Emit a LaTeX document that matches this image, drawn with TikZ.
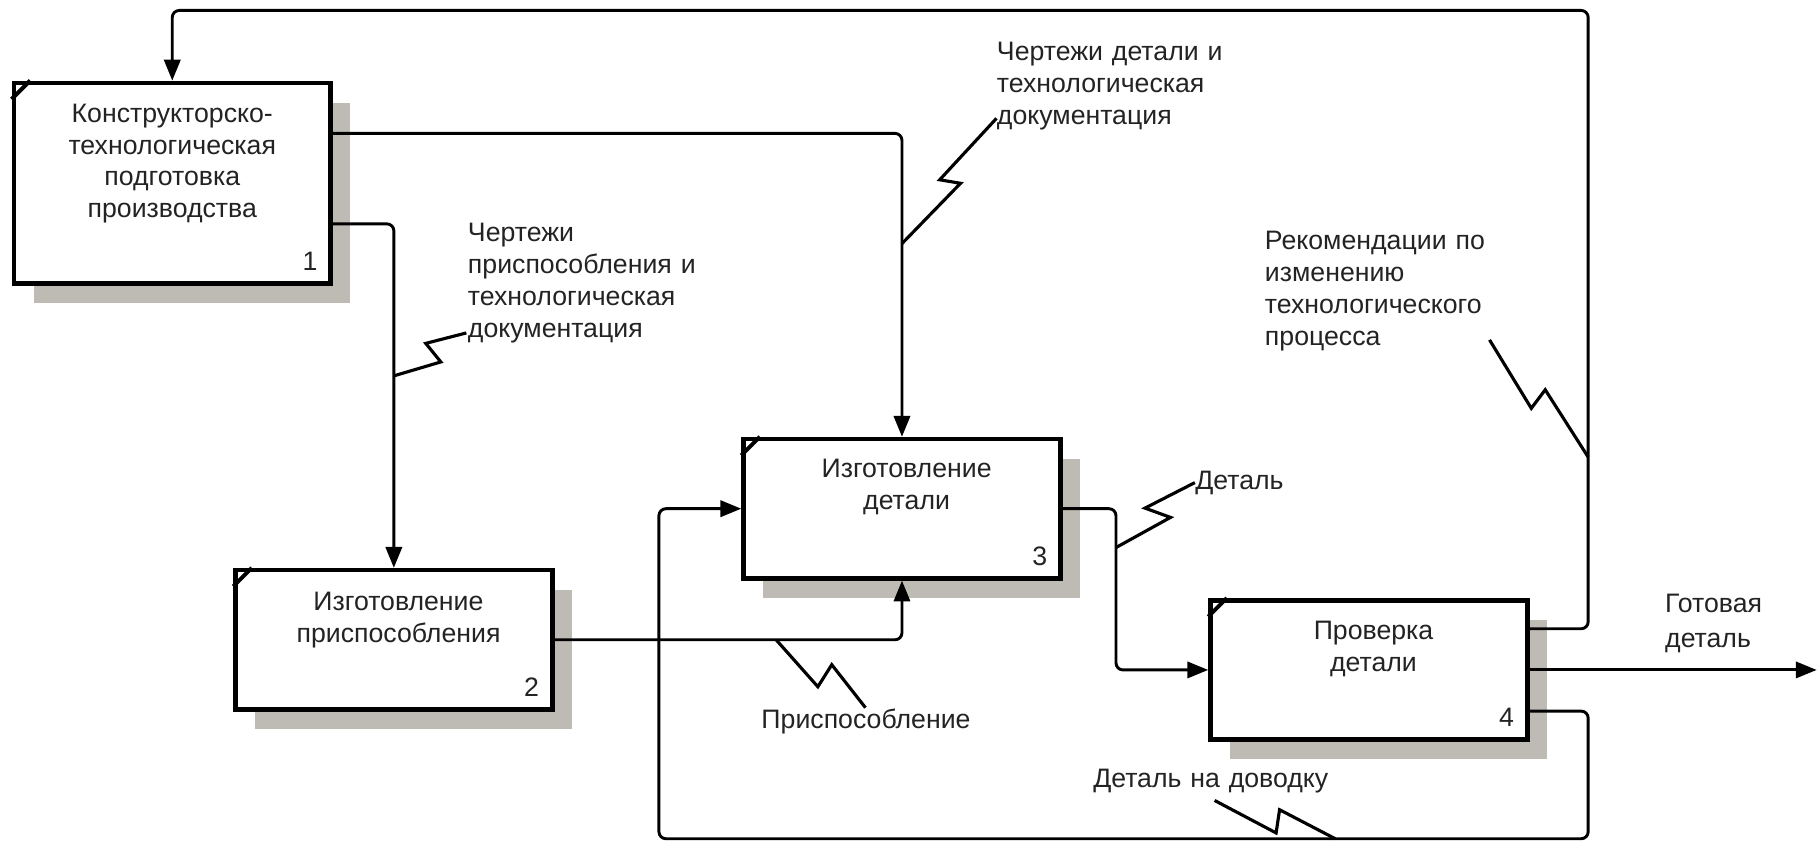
\documentclass[tikz,border=0pt]{standalone}
\usepackage{fontspec}
\setmainfont{Liberation Sans}
\usetikzlibrary{arrows.meta,shadows,calc}
\definecolor{shad}{RGB}{190,187,180}
\definecolor{txt}{RGB}{35,35,35}
\begin{document}
\begin{tikzpicture}[x=0.5pt,y=-0.5pt,
  proc/.style={draw=black, line width=2pt, fill=white, minimum width=136.5pt,
    minimum height=60pt, inner sep=0pt,
    general shadow={shadow xshift=8.5pt, shadow yshift=-8.5pt, fill=shad}},
  ttl/.style={anchor=base, text width=134pt, align=center, inner sep=0pt,
    font=\fontsize{11.5}{13.7}\selectfont, text=txt},
  num/.style={anchor=base east, inner sep=0pt, font=\fontsize{11.5}{13.7}\selectfont, text=txt},
  lbl/.style={anchor=base west, text width=125pt, align=left, inner sep=0pt,
    font=\fontsize{11.5}{13.8}\selectfont, text=txt},
  conn/.style={line width=1.25pt, rounded corners=3pt},
  arr/.style={conn, -{Triangle[length=9pt,width=7pt]}},
  sq/.style={line width=1.35pt, line join=miter},
  cmark/.style={line width=1.7pt}
]
\useasboundingbox (0,0) rectangle (1568,726);

% boxes
\node[proc, minimum height=86.5pt] (b1) at (148.5,158) {};
\node[proc] (b2) at (339.5,551.5) {};
\node[proc] (b3) at (777.5,438.5) {};
\node[proc] (b4) at (1180,577.5) {};

% corner marks
\foreach \b in {b1,b2,b3,b4}
  \draw[cmark] ([yshift=-8pt]\b.north west) -- ([xshift=8pt]\b.north west);

% titles
\node[ttl] (t1) at ([yshift=-18pt]b1.north) {Конструкторско-\\технологическая\\подготовка\\производства};
\node[ttl] (t2) at ([xshift=2pt,yshift=-18.5pt]b2.north) {Изготовление\\приспособления};
\node[ttl] (t3) at ([xshift=2pt,yshift=-17.5pt]b3.north) {Изготовление\\детали};
\node[ttl] (t4) at ([xshift=2pt,yshift=-18pt]b4.north) {Проверка\\детали};

% numbers
\node[num] (n1) at ([xshift=-6.5pt,yshift=6.5pt]b1.south east) {1};
\node[num] (n2) at ([xshift=-6.5pt,yshift=6.5pt]b2.south east) {2};
\node[num] (n3) at ([xshift=-6.5pt,yshift=6.5pt]b3.south east) {3};
\node[num] (n4) at ([xshift=-6.5pt,yshift=6.5pt]b4.south east) {4};

% helper coordinates
\coordinate (aR) at (1369,9);
\coordinate (eC) at (962,438.5);
\coordinate (gR) at (1369,723);
\coordinate (gL) at (568,723);
\coordinate (fEnd) at (1566,577.5);

% connectors
\draw[arr] ([yshift=17.75pt]b4.east) -| (aR) -| (b1.north);
\draw[arr] ([yshift=21.5pt]b1.east) -| (b3.north);
\draw[arr] ([yshift=-17.5pt]b1.east) -| (b2.north);
\draw[arr] (b2.east) -| (b3.south);
\draw[arr] (b3.east) -- (eC) |- (b4.west);
\draw[arr] (b4.east) -- (fEnd);
\draw[arr] ([yshift=-17.75pt]b4.east) -| (gR) -- (gL) |- (b3.west);

% labels
\node[lbl] (l1) at (859,52) {Чертежи детали и\\технологическая\\документация};
\node[lbl] (l2) at (403,208) {Чертежи\\приспособления и\\технологическая\\документация};
\node[lbl] (l3) at (1090,215) {Рекомендации по\\изменению\\технологического\\процесса};
\node[lbl] (l4) at (1030,422) {Деталь};
\node[lbl] (l5) at (656,628) {Приспособление};
\node[lbl, font=\fontsize{11.5}{15}\selectfont] (l6) at (1435,528) {Готовая\\деталь};
\node[lbl] (l7) at (942,679) {Деталь на доводку};

% squiggles
\draw[sq] (777.5,210) -- (828,158) -- (810,155) -- (859,102);
\draw[sq] (339.5,324) -- (380,312) -- (367,296) -- (402,287);
\draw[sq] (669,551.5) -- (705,592) -- (717,573) -- (746,610);
\draw[sq] (962,472) -- (1009,446) -- (987,438) -- (1030,416);
\draw[sq] (1047,690) -- (1100,718) -- (1103,698) -- (1151,723);
\draw[sq] (1284,293) -- (1320,352) -- (1332,336) -- (1369,394);
\end{tikzpicture}
\end{document}
